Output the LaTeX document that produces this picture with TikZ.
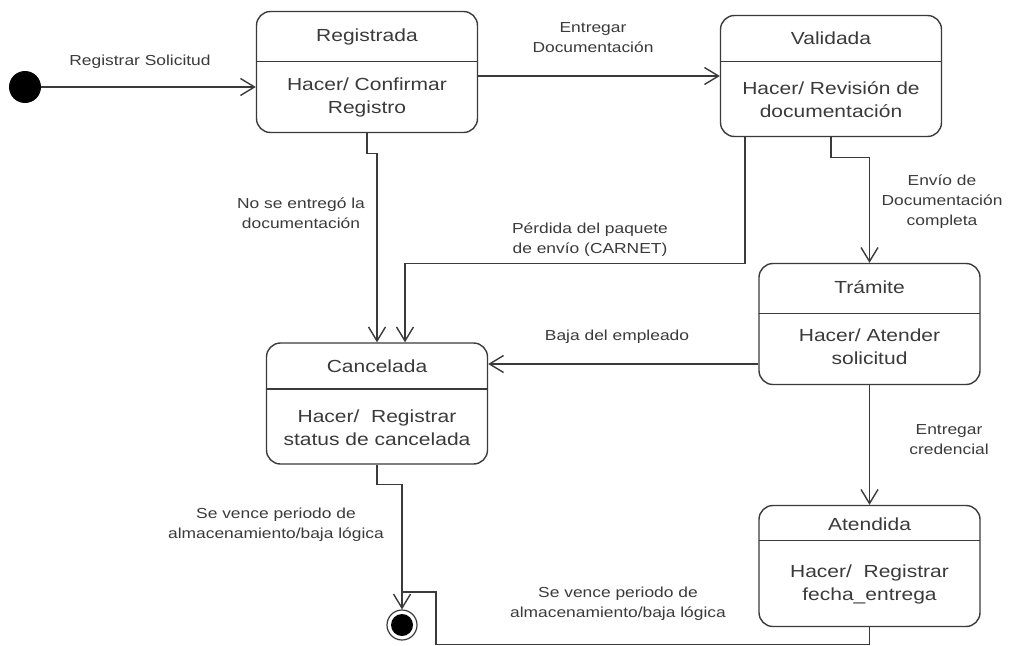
\documentclass[tikz,border=0pt]{standalone}
\usepackage{fontspec}
\setmainfont[FakeStretch=1.2]{Liberation Sans}
\usetikzlibrary{arrows.meta, positioning}
\definecolor{trazo}{RGB}{58,58,58}

\begin{document}
\begin{tikzpicture}[
    x=1pt, y=-1pt,
    % Node styles
    estado/.style={
        draw=trazo, line width=1.4pt, rounded corners=14pt,
        minimum width=221pt, minimum height=121pt, inner sep=0pt,
        path picture={\draw[trazo, line width=1.4pt]
            ([yshift=-#1]path picture bounding box.north west) --
            ([yshift=-#1]path picture bounding box.north east);},
    },
    titulo/.style={text=trazo, font=\fontsize{17.5}{22}\selectfont},
    cuerpo/.style={text=trazo, align=center, font=\fontsize{17.5}{23}\selectfont},
    etiqueta/.style={text=trazo, align=center, font=\fontsize{14.5}{20}\selectfont},
    inicio/.style={circle, fill=black, minimum size=32pt, inner sep=0pt},
    final/.style={
        circle, draw=trazo, line width=1.2pt, minimum size=30pt, inner sep=0pt,
        path picture={\fill[black] (path picture bounding box.center) circle (11pt);},
    },
    % Edge styles
    linea/.style={draw=trazo, line width=1.4pt},
    flecha/.style={linea, -{Straight Barb[length=14pt, width=17pt, line width=1.4pt]}},
  ]
  \useasboundingbox (0,0) rectangle (1011,645);

  % --- States ---
  \node[inicio] (ini) at (25,87) {};
  \node[estado=50pt] (reg) at (367,72) {};
  \node[titulo] (regT) at (367,36.5) {Registrada};
  \node[cuerpo] (regC) at (367,97) {Hacer/ Confirmar\\Registro};

  \node[estado=46pt] (val) at (831,76) {};
  \node[titulo] (valT) at (831,38.5) {Validada};
  \node[cuerpo] (valC) at (831,100) {Hacer/ Revisión de\\documentación};

  \node[estado=50pt] (tra) at (869.5,324) {};
  \node[titulo] (traT) at (869.5,287) {Trámite};
  \node[cuerpo] (traC) at (869.5,347) {Hacer/ Atender\\solicitud};

  \node[estado=46pt] (can) at (377,403.5) {};
  \node[titulo] (canT) at (377,366) {Cancelada};
  \node[cuerpo] (canC) at (377,428) {Hacer/\ \ Registrar\\status de cancelada};

  \node[estado=35pt] (ate) at (869.5,566) {};
  \node[titulo] (ateT) at (869.5,524) {Atendida};
  \node[cuerpo] (ateC) at (869.5,584.5) {Hacer/\ \ Registrar\\fecha\_entrega};

  \node[final] (fin) at (402,625) {};
  \coordinate (union) at ([yshift=33pt]fin.center);

  % --- Transitions ---
  \draw[flecha] (ini) -- (reg.west |- ini);
  \draw[flecha] (reg.east |- val.west) -- (val.west);
  \draw[flecha] (reg.south) -- ++(0,20) -| (can.north);
  \draw[flecha] ([xshift=-86pt]val.south) -- ++(0,126) -| ([xshift=28pt]can.north);
  \draw[flecha] (val.south) -- ++(0,20) -| (tra.north);
  \draw[flecha] ([yshift=-40pt]tra.west) coordinate (baja) -- (can.east |- baja);
  \draw[flecha] (tra.south) -- (ate.north);
  \draw[flecha] (can.south) -- ++(0,20) -| (fin.north);
  \draw[linea] (ate.south) -- ++(0,17.5) -| ([xshift=34pt]union) -- (union);

  % --- Transition labels ---
  \node[etiqueta] (lSol) at (140,62) {Registrar Solicitud};
  \node[etiqueta] (lDoc) at (593,38) {Entregar\\Documentación};
  \node[etiqueta] (lNo) at (301,213) {No se entregó la\\documentación};
  \node[etiqueta] (lPer) at (590,240) {Pérdida del paquete\\de envío (CARNET)};
  \node[etiqueta] (lEnv) at (942,202) {Envío de\\Documentación\\completa};
  \node[etiqueta] (lBaja) at (617,337) {Baja del empleado};
  \node[etiqueta] (lCred) at (949,440) {Entregar\\credencial};
  \node[etiqueta] (lVen1) at (276,525) {Se vence periodo de\\almacenamiento/baja lógica};
  \node[etiqueta] (lVen2) at (618,604) {Se vence periodo de\\almacenamiento/baja lógica};

\end{tikzpicture}
\end{document}
